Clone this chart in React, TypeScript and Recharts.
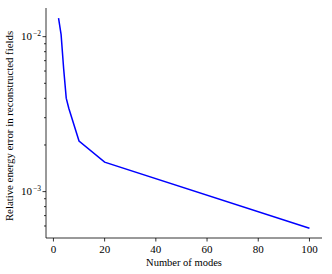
import React from 'react';
import { LineChart, Line, XAxis, YAxis, Label } from 'recharts';

const modes = [2, 3, 4, 5, 6, 10, 20, 100];
const energyError = [0.01315, 0.0103, 0.0062, 0.00401, 0.00345, 0.00212, 0.00155, 0.00058];

const xTicks = [0, 20, 40, 60, 80, 100];
const majorY = [0.001, 0.01];
const minorY = [0.0006, 0.0007, 0.0008, 0.0009, 0.002, 0.003, 0.004, 0.005, 0.006, 0.007, 0.008, 0.009];

const FONT = '"Liberation Serif", "DejaVu Serif", serif';

const data = modes.map((m, i) => ({ modes: m, err: energyError[i] }));

const YTick = (props: any) => {
  const { x, y, payload } = props;
  const v = payload.value as number;
  const isMajor = majorY.some((t) => Math.abs(t - v) < 1e-12);
  const len = isMajor ? 3.5 : 2;
  const exp = Math.round(Math.log10(v));
  return (
    <g>
      <line x1={x - len} x2={x} y1={y} y2={y} stroke="#000" strokeWidth={0.8} />
      {isMajor && (
        <text x={x - 5} y={y + 3.5} fontSize={11} fontFamily={FONT} fill="#000" textAnchor="end">
          10
          <tspan dx={1} dy={-4.5} fontSize={7.5}>{'\u2212' + Math.abs(exp)}</tspan>
        </text>
      )}
    </g>
  );
};

const YLabel = (props: any) => {
  const { viewBox } = props;
  const cx = 9;
  const cy = viewBox.y + viewBox.height / 2 + 3;
  return (
    <text
      x={cx}
      y={cy}
      transform={`rotate(-90, ${cx}, ${cy})`}
      textAnchor="middle"
      dominantBaseline="central"
      fontSize={10.8}
      fontFamily={FONT}
      fill="#000"
    >
      Relative energy error in reconstructed fields
    </text>
  );
};

export default function App() {
  return (
    <div style={{ position: 'absolute', left: 0, top: 0, background: '#fff' }}>
      <LineChart
        width={332}
        height={274}
        data={data}
        margin={{ top: 8, right: 10, left: 0, bottom: 0 }}
      >
        <XAxis
          dataKey="modes"
          type="number"
          domain={[-2.9, 104.9]}
          ticks={xTicks}
          allowDataOverflow
          height={36}
          tickSize={3.5}
          tickMargin={3.5}
          axisLine={{ stroke: '#000', strokeWidth: 0.8 }}
          tickLine={{ stroke: '#000', strokeWidth: 0.8 }}
          tick={{ fill: '#000', fontSize: 11, fontFamily: FONT }}
        >
          <Label
            value="Number of modes"
            position="insideBottom"
            offset={8}
            style={{ fill: '#000', fontSize: 10.5, fontFamily: FONT }}
          />
        </XAxis>
        <XAxis
          xAxisId="top"
          orientation="top"
          dataKey="modes"
          type="number"
          domain={[-2.9, 104.9]}
          height={0}
          tick={false}
          tickLine={false}
          axisLine={{ stroke: '#000', strokeWidth: 0.8 }}
        />
        <YAxis
          type="number"
          scale="log"
          domain={[0.000502, 0.01531]}
          allowDataOverflow
          ticks={[...majorY, ...minorY]}
          interval={0}
          width={46}
          tickSize={0}
          tickMargin={0}
          tickLine={false}
          axisLine={{ stroke: '#000', strokeWidth: 0.8 }}
          tick={<YTick />}
        >
          <Label content={<YLabel />} />
        </YAxis>
        <YAxis
          yAxisId="right"
          orientation="right"
          type="number"
          scale="log"
          domain={[0.000502, 0.01531]}
          width={0}
          tick={false}
          tickLine={false}
          axisLine={{ stroke: '#000', strokeWidth: 0.8 }}
        />
        <Line
          dataKey="err"
          stroke="#0000ff"
          strokeWidth={1.5}
          dot={false}
          isAnimationActive={false}
        />
      </LineChart>
    </div>
  );
}
